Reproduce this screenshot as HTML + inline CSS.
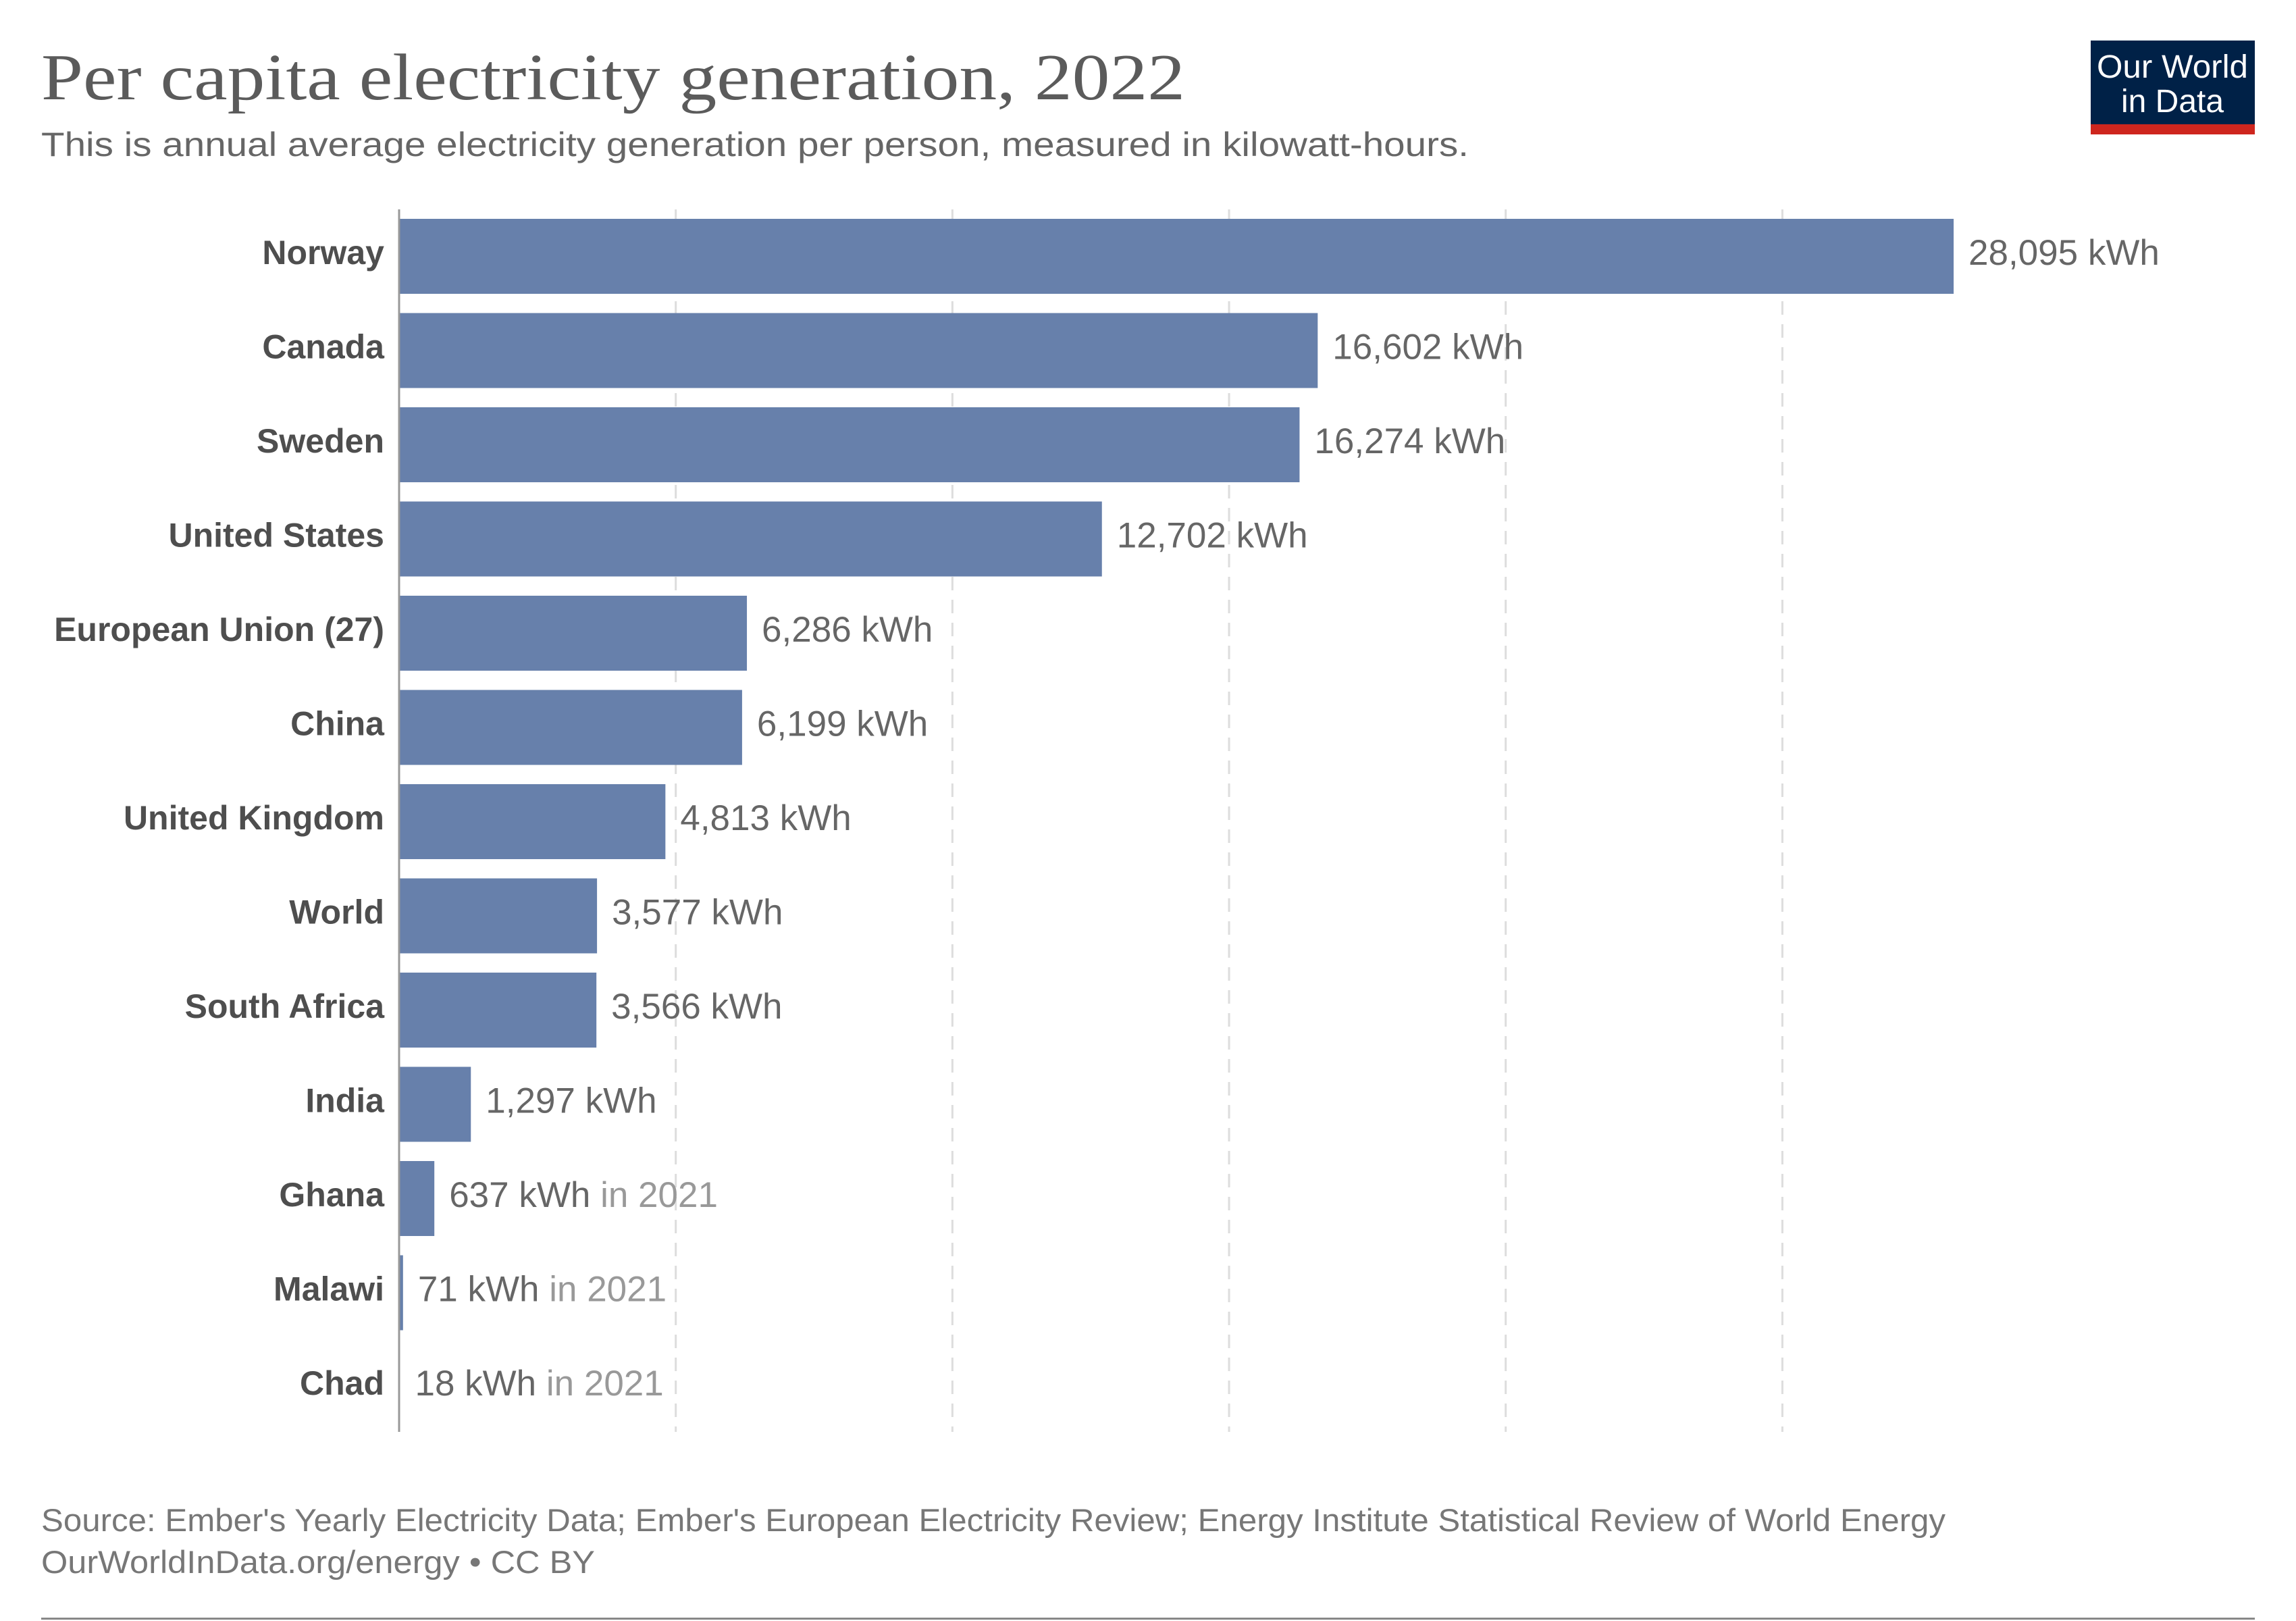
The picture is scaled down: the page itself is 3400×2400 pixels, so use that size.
<!DOCTYPE html>
<html><head><meta charset="utf-8"><style>
html,body{margin:0;padding:0;background:#fff;}
svg{display:block;}
</style></head><body>
<svg id="chart" width="3400" height="2400" viewBox="0 0 3400 2400" xmlns="http://www.w3.org/2000/svg">
<rect width="3400" height="2400" fill="#fff"/>
<text x="61" y="147" font-family="Liberation Serif, serif" font-size="98" fill="#5b5b5b" textLength="1694" lengthAdjust="spacingAndGlyphs">Per capita electricity generation, 2022</text>
<text x="61" y="231" font-family="Liberation Sans, sans-serif" font-size="50" fill="#666" textLength="2114" lengthAdjust="spacingAndGlyphs">This is annual average electricity generation per person, measured in kilowatt-hours.</text>
<g>
<rect x="3096" y="60" width="243" height="124" fill="#002147"/>
<rect x="3096" y="184" width="243" height="15" fill="#ce261e"/>
<text x="3217" y="115" text-anchor="middle" font-family="Liberation Sans, sans-serif" font-size="48" fill="#fff" textLength="224" lengthAdjust="spacingAndGlyphs">Our World</text>
<text x="3217" y="166" text-anchor="middle" font-family="Liberation Sans, sans-serif" font-size="48" fill="#fff">in Data</text>
</g>
<g id="grid"></g>
<g id="bars"></g>
<line x1="591" y1="310" x2="591" y2="2120" stroke="#999" stroke-width="3"/>
<text x="61" y="2267" font-family="Liberation Sans, sans-serif" font-size="47" fill="#777" textLength="2820" lengthAdjust="spacingAndGlyphs">Source: Ember's Yearly Electricity Data; Ember's European Electricity Review; Energy Institute Statistical Review of World Energy</text>
<text x="61" y="2329" font-family="Liberation Sans, sans-serif" font-size="47" fill="#777" textLength="820" lengthAdjust="spacingAndGlyphs">OurWorldInData.org/energy • CC BY</text>
<rect x="61" y="2395" width="3278" height="3" fill="#888"/>
</svg>
<script>
const countries = ["Norway","Canada","Sweden","United States","European Union (27)","China","United Kingdom","World","South Africa","India","Ghana","Malawi","Chad"];
const values = [28095,16602,16274,12702,6286,6199,4813,3577,3566,1297,637,71,18];
const valueLabels = ["28,095","16,602","16,274","12,702","6,286","6,199","4,813","3,577","3,566","1,297","637","71","18"];
const yearNotes = ["","","","","","","","","","","in 2021","in 2021","in 2021"];
const gridTicks = [5000,10000,15000,20000,25000];

const NS = "http://www.w3.org/2000/svg";
const x0 = 591, kx = (2893 - 591) / 28095;
const xScale = v => x0 + v * kx;
const y0 = 324, pitch = 139.5, bh = 111;
const yScale = i => y0 + i * pitch;

const grid = document.getElementById('grid');
gridTicks.forEach(t => {
  const l = document.createElementNS(NS, 'line');
  
  
  l.setAttribute('x1', xScale(t)); l.setAttribute('x2', xScale(t));
  l.setAttribute('y1', 310); l.setAttribute('y2', 2120);
  l.setAttribute('stroke', '#ddd'); l.setAttribute('stroke-width', 3);
  l.setAttribute('stroke-dasharray', '20,14');
  grid.appendChild(l);
});

const bars = document.getElementById('bars');
countries.forEach((c, i) => {
  const y = yScale(i);
  const r = document.createElementNS(NS, 'rect');
  
  
  r.setAttribute('x', x0); r.setAttribute('y', y);
  r.setAttribute('width', Math.max(values[i] * kx, 0.5)); r.setAttribute('height', bh);
  r.setAttribute('fill', '#6780ab');
  bars.appendChild(r);

  const lab = document.createElementNS(NS, 'text');
  
  
  lab.setAttribute('x', 569); lab.setAttribute('y', y + 67);
  lab.setAttribute('text-anchor', 'end');
  lab.setAttribute('font-family', 'Liberation Sans, sans-serif');
  lab.setAttribute('font-weight', 'bold');
  lab.setAttribute('font-size', 50);
  lab.setAttribute('fill', '#4e4e4e');
  lab.textContent = c;
  bars.appendChild(lab);

  const vl = document.createElementNS(NS, 'text');
  
  
  vl.setAttribute('x', xScale(values[i]) + 22); vl.setAttribute('y', y + 68);
  vl.setAttribute('font-family', 'Liberation Sans, sans-serif');
  vl.setAttribute('font-size', 53);
  vl.setAttribute('fill', '#666');
  vl.textContent = valueLabels[i] + ' kWh';
  if (yearNotes[i]) {
    const ts = document.createElementNS(NS, 'tspan');
    ts.setAttribute('fill', '#999');
    ts.textContent = ' ' + yearNotes[i];
    vl.appendChild(ts);
  }
  bars.appendChild(vl);
});
</script>
</body></html>
